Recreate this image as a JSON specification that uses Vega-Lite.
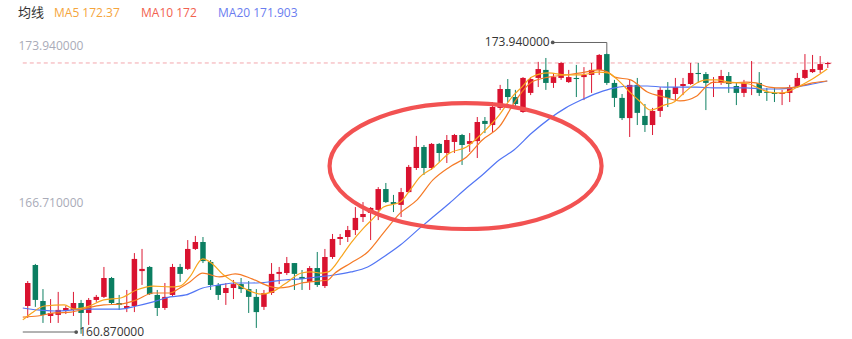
{
"$schema": "https://vega.github.io/schema/vega-lite/v6.json",
"width": 852, "height": 339, "padding": 0, "autosize": "none",
"background": "white",
"config": {"view": {"stroke": null}},
"datasets": {
"candles": [
{"i":0,"o":162.28,"c":163.34,"h":163.43,"l":161.73},
{"i":1,"o":164.17,"c":162.56,"h":164.22,"l":162.24},
{"i":2,"o":162.51,"c":161.87,"h":163.06,"l":161.50},
{"i":3,"o":161.82,"c":161.96,"h":162.60,"l":161.50},
{"i":4,"o":161.87,"c":162.10,"h":162.93,"l":161.50},
{"i":5,"o":162.05,"c":162.19,"h":162.28,"l":161.91},
{"i":6,"o":162.10,"c":162.42,"h":162.93,"l":161.82},
{"i":7,"o":162.42,"c":161.96,"h":162.56,"l":161.00},
{"i":8,"o":161.96,"c":162.56,"h":162.65,"l":161.41},
{"i":9,"o":162.56,"c":162.70,"h":162.79,"l":162.47},
{"i":10,"o":162.70,"c":163.57,"h":164.08,"l":162.65},
{"i":11,"o":163.57,"c":162.42,"h":163.62,"l":162.37},
{"i":12,"o":162.42,"c":162.33,"h":162.79,"l":162.10},
{"i":13,"o":162.19,"c":162.28,"h":163.02,"l":162.00},
{"i":14,"o":162.28,"c":164.45,"h":164.72,"l":162.00},
{"i":15,"o":163.89,"c":163.99,"h":164.91,"l":163.25},
{"i":16,"o":164.08,"c":162.83,"h":164.12,"l":162.79},
{"i":17,"o":162.79,"c":162.19,"h":163.02,"l":161.82},
{"i":18,"o":162.19,"c":162.70,"h":163.34,"l":162.10},
{"i":19,"o":162.79,"c":164.08,"h":164.22,"l":162.74},
{"i":20,"o":164.08,"c":163.76,"h":164.22,"l":163.39},
{"i":21,"o":163.99,"c":164.91,"h":165.32,"l":163.94},
{"i":22,"o":164.91,"c":165.23,"h":165.51,"l":164.86},
{"i":23,"o":165.23,"c":164.35,"h":165.46,"l":164.26},
{"i":24,"o":164.31,"c":163.25,"h":164.40,"l":163.02},
{"i":25,"o":163.25,"c":162.79,"h":163.34,"l":162.56},
{"i":26,"o":162.88,"c":163.11,"h":163.34,"l":162.33},
{"i":27,"o":163.11,"c":163.29,"h":163.48,"l":162.60},
{"i":28,"o":163.29,"c":163.06,"h":163.57,"l":162.88},
{"i":29,"o":163.06,"c":162.70,"h":163.43,"l":161.96},
{"i":30,"o":162.70,"c":162.00,"h":163.06,"l":161.27},
{"i":31,"o":162.24,"c":162.88,"h":163.02,"l":162.10},
{"i":32,"o":162.88,"c":163.76,"h":164.26,"l":162.79},
{"i":33,"o":163.76,"c":163.85,"h":164.08,"l":163.29},
{"i":34,"o":163.80,"c":164.26,"h":164.54,"l":163.71},
{"i":35,"o":164.26,"c":163.76,"h":164.26,"l":163.02},
{"i":36,"o":163.62,"c":163.53,"h":163.94,"l":163.02},
{"i":37,"o":163.39,"c":164.03,"h":164.12,"l":163.02},
{"i":38,"o":164.03,"c":163.25,"h":164.77,"l":163.16},
{"i":39,"o":163.20,"c":164.54,"h":164.91,"l":163.11},
{"i":40,"o":164.54,"c":165.37,"h":165.60,"l":164.45},
{"i":41,"o":165.37,"c":165.46,"h":165.60,"l":165.09},
{"i":42,"o":165.46,"c":165.78,"h":165.97,"l":165.23},
{"i":43,"o":165.78,"c":166.34,"h":166.84,"l":165.55},
{"i":44,"o":166.38,"c":166.52,"h":167.07,"l":166.15},
{"i":45,"o":166.57,"c":166.80,"h":166.84,"l":165.32},
{"i":46,"o":166.71,"c":167.67,"h":167.76,"l":166.24},
{"i":47,"o":167.67,"c":167.07,"h":167.95,"l":167.03},
{"i":48,"o":167.07,"c":166.98,"h":167.40,"l":166.61},
{"i":49,"o":166.94,"c":167.53,"h":167.72,"l":166.38},
{"i":50,"o":167.53,"c":168.69,"h":168.78,"l":167.49},
{"i":51,"o":168.64,"c":169.61,"h":170.12,"l":168.55},
{"i":52,"o":169.61,"c":168.64,"h":169.70,"l":168.32},
{"i":53,"o":168.64,"c":169.75,"h":169.79,"l":168.55},
{"i":54,"o":169.75,"c":169.33,"h":169.79,"l":168.92},
{"i":55,"o":169.33,"c":169.93,"h":170.16,"l":168.87},
{"i":56,"o":169.84,"c":170.16,"h":170.21,"l":169.33},
{"i":57,"o":170.16,"c":169.70,"h":170.21,"l":168.78},
{"i":58,"o":169.75,"c":169.88,"h":170.25,"l":169.38},
{"i":59,"o":169.88,"c":170.76,"h":170.99,"l":169.10},
{"i":60,"o":170.81,"c":170.67,"h":170.99,"l":170.25},
{"i":61,"o":170.62,"c":171.45,"h":171.68,"l":170.30},
{"i":62,"o":171.41,"c":172.28,"h":172.47,"l":171.31},
{"i":63,"o":172.28,"c":171.91,"h":172.74,"l":171.68},
{"i":64,"o":171.91,"c":171.59,"h":172.24,"l":171.45},
{"i":65,"o":171.22,"c":172.79,"h":172.83,"l":171.18},
{"i":66,"o":172.10,"c":172.74,"h":172.83,"l":172.00},
{"i":67,"o":172.79,"c":173.20,"h":173.53,"l":172.37},
{"i":68,"o":173.16,"c":172.56,"h":173.71,"l":172.24},
{"i":69,"o":172.56,"c":172.83,"h":173.02,"l":172.33},
{"i":70,"o":172.79,"c":173.48,"h":173.53,"l":172.70},
{"i":71,"o":172.60,"c":172.83,"h":173.16,"l":172.56},
{"i":72,"o":172.79,"c":172.74,"h":173.39,"l":171.91},
{"i":73,"o":172.83,"c":172.93,"h":173.29,"l":171.77},
{"i":74,"o":172.93,"c":173.16,"h":173.48,"l":172.10},
{"i":75,"o":173.16,"c":173.85,"h":173.89,"l":172.93},
{"i":76,"o":173.89,"c":172.56,"h":173.94,"l":172.47},
{"i":77,"o":172.56,"c":171.87,"h":172.70,"l":171.45},
{"i":78,"o":171.87,"c":170.94,"h":172.05,"l":170.85},
{"i":79,"o":170.94,"c":172.47,"h":172.70,"l":170.07},
{"i":80,"o":172.47,"c":171.18,"h":172.79,"l":170.62},
{"i":81,"o":171.04,"c":170.62,"h":171.59,"l":170.30},
{"i":82,"o":170.62,"c":171.27,"h":171.41,"l":170.16},
{"i":83,"o":171.27,"c":172.24,"h":172.37,"l":170.99},
{"i":84,"o":172.24,"c":171.87,"h":172.60,"l":171.45},
{"i":85,"o":172.05,"c":172.37,"h":172.79,"l":171.77},
{"i":86,"o":172.42,"c":172.51,"h":172.79,"l":172.00},
{"i":87,"o":172.51,"c":173.02,"h":173.48,"l":172.47},
{"i":88,"o":173.02,"c":172.97,"h":173.48,"l":172.56},
{"i":89,"o":172.97,"c":172.56,"h":173.06,"l":171.31},
{"i":90,"o":172.56,"c":172.60,"h":172.83,"l":171.91},
{"i":91,"o":172.56,"c":172.88,"h":173.16,"l":172.47},
{"i":92,"o":172.88,"c":172.51,"h":173.06,"l":172.10},
{"i":93,"o":172.42,"c":172.10,"h":172.56,"l":171.54},
{"i":94,"o":172.10,"c":172.56,"h":172.70,"l":171.91},
{"i":95,"o":172.56,"c":172.60,"h":173.57,"l":172.00},
{"i":96,"o":172.56,"c":172.10,"h":173.06,"l":171.96},
{"i":97,"o":172.14,"c":172.10,"h":172.33,"l":171.73},
{"i":98,"o":172.10,"c":172.05,"h":172.33,"l":171.68},
{"i":99,"o":172.05,"c":172.10,"h":172.24,"l":171.54},
{"i":100,"o":172.10,"c":172.37,"h":172.47,"l":171.68},
{"i":101,"o":172.37,"c":172.79,"h":173.02,"l":172.33},
{"i":102,"o":172.79,"c":173.16,"h":173.89,"l":172.74},
{"i":103,"o":173.06,"c":173.20,"h":173.85,"l":173.02},
{"i":104,"o":173.16,"c":173.43,"h":173.80,"l":173.02},
{"i":105,"o":173.43,"c":173.48,"h":173.53,"l":173.25}
],
"ma": [
{"s":"MA20","i":-0.65,"p":162.19},{"s":"MA20","i":1.3,"p":162.10},{"s":"MA20","i":3.5,"p":162.05},{"s":"MA20","i":7.78,"p":162.14},{"s":"MA20","i":12.19,"p":162.14},{"s":"MA20","i":14.27,"p":162.28},{"s":"MA20","i":16.47,"p":162.47},{"s":"MA20","i":18.68,"p":162.70},{"s":"MA20","i":20.75,"p":162.79},{"s":"MA20","i":22.96,"p":163.11},{"s":"MA20","i":25.16,"p":163.25},{"s":"MA20","i":27.24,"p":163.34},{"s":"MA20","i":29.44,"p":163.34},{"s":"MA20","i":31.65,"p":163.39},{"s":"MA20","i":33.72,"p":163.48},{"s":"MA20","i":35.93,"p":163.53},{"s":"MA20","i":38.13,"p":163.62},{"s":"MA20","i":40.21,"p":163.71},{"s":"MA20","i":42.41,"p":163.85},{"s":"MA20","i":44.62,"p":164.08},{"s":"MA20","i":46.69,"p":164.54},{"s":"MA20","i":48.9,"p":165.09},{"s":"MA20","i":51.49,"p":165.88},{"s":"MA20","i":53.18,"p":166.38},{"s":"MA20","i":55.38,"p":167.03},{"s":"MA20","i":57.59,"p":167.72},{"s":"MA20","i":59.66,"p":168.32},{"s":"MA20","i":61.87,"p":169.01},{"s":"MA20","i":63.81,"p":169.47},{"s":"MA20","i":66.15,"p":170.25},{"s":"MA20","i":70.56,"p":171.40},{"s":"MA20","i":72.63,"p":171.77},{"s":"MA20","i":74.84,"p":172.10},{"s":"MA20","i":77.04,"p":172.33},{"s":"MA20","i":79.12,"p":172.42},{"s":"MA20","i":81.32,"p":172.42},{"s":"MA20","i":83.53,"p":172.37},{"s":"MA20","i":85.6,"p":172.37},{"s":"MA20","i":87.81,"p":172.37},{"s":"MA20","i":90.01,"p":172.33},{"s":"MA20","i":92.09,"p":172.33},{"s":"MA20","i":94.29,"p":172.33},{"s":"MA20","i":96.5,"p":172.28},{"s":"MA20","i":98.57,"p":172.28},{"s":"MA20","i":100.78,"p":172.37},{"s":"MA20","i":102.98,"p":172.51},{"s":"MA20","i":104.93,"p":172.65},
{"s":"MA10","i":-0.65,"p":161.77},{"s":"MA10","i":1.3,"p":161.82},{"s":"MA10","i":3.5,"p":161.96},{"s":"MA10","i":5.71,"p":162.00},{"s":"MA10","i":7.78,"p":162.19},{"s":"MA10","i":9.99,"p":162.33},{"s":"MA10","i":12.19,"p":162.37},{"s":"MA10","i":14.27,"p":162.56},{"s":"MA10","i":16.47,"p":162.88},{"s":"MA10","i":18.68,"p":162.88},{"s":"MA10","i":19.97,"p":163.11},{"s":"MA10","i":21.27,"p":163.39},{"s":"MA10","i":22.96,"p":163.80},{"s":"MA10","i":25.16,"p":163.62},{"s":"MA10","i":27.24,"p":163.76},{"s":"MA10","i":29.44,"p":163.53},{"s":"MA10","i":31.65,"p":163.20},{"s":"MA10","i":32.94,"p":163.11},{"s":"MA10","i":34.24,"p":163.16},{"s":"MA10","i":35.93,"p":163.34},{"s":"MA10","i":38.13,"p":163.43},{"s":"MA10","i":39.43,"p":163.48},{"s":"MA10","i":40.21,"p":163.76},{"s":"MA10","i":42.41,"p":164.26},{"s":"MA10","i":44.62,"p":164.77},{"s":"MA10","i":46.69,"p":165.65},{"s":"MA10","i":48.9,"p":166.57},{"s":"MA10","i":51.1,"p":167.17},{"s":"MA10","i":53.18,"p":168.09},{"s":"MA10","i":55.38,"p":168.69},{"s":"MA10","i":57.59,"p":169.15},{"s":"MA10","i":59.66,"p":169.93},{"s":"MA10","i":61.87,"p":170.53},{"s":"MA10","i":64.07,"p":171.77},{"s":"MA10","i":66.15,"p":172.60},{"s":"MA10","i":68.35,"p":172.83},{"s":"MA10","i":70.56,"p":172.93},{"s":"MA10","i":72.63,"p":173.02},{"s":"MA10","i":74.84,"p":173.16},{"s":"MA10","i":76.13,"p":173.06},{"s":"MA10","i":77.04,"p":172.83},{"s":"MA10","i":79.12,"p":172.70},{"s":"MA10","i":81.32,"p":172.14},{"s":"MA10","i":83.53,"p":171.91},{"s":"MA10","i":85.6,"p":171.73},{"s":"MA10","i":87.81,"p":171.96},{"s":"MA10","i":89.1,"p":172.42},{"s":"MA10","i":90.01,"p":172.60},{"s":"MA10","i":92.09,"p":172.56},{"s":"MA10","i":94.29,"p":172.60},{"s":"MA10","i":95.59,"p":172.56},{"s":"MA10","i":97.28,"p":172.37},{"s":"MA10","i":99.09,"p":172.33},{"s":"MA10","i":100.78,"p":172.37},{"s":"MA10","i":102.98,"p":172.56},{"s":"MA10","i":104.93,"p":172.65},
{"s":"MA5","i":-0.65,"p":161.64},{"s":"MA5","i":0.52,"p":161.96},{"s":"MA5","i":2.2,"p":162.28},{"s":"MA5","i":4.8,"p":162.33},{"s":"MA5","i":6.1,"p":162.14},{"s":"MA5","i":7.78,"p":162.24},{"s":"MA5","i":9.99,"p":162.56},{"s":"MA5","i":12.19,"p":162.65},{"s":"MA5","i":14.27,"p":163.02},{"s":"MA5","i":16.47,"p":163.20},{"s":"MA5","i":18.68,"p":163.16},{"s":"MA5","i":19.97,"p":163.20},{"s":"MA5","i":21.27,"p":163.62},{"s":"MA5","i":22.96,"p":164.45},{"s":"MA5","i":24.25,"p":164.22},{"s":"MA5","i":25.55,"p":163.76},{"s":"MA5","i":27.24,"p":163.34},{"s":"MA5","i":29.44,"p":162.93},{"s":"MA5","i":30.74,"p":162.83},{"s":"MA5","i":32.04,"p":162.93},{"s":"MA5","i":33.72,"p":163.29},{"s":"MA5","i":35.93,"p":163.80},{"s":"MA5","i":37.22,"p":163.85},{"s":"MA5","i":38.52,"p":163.80},{"s":"MA5","i":39.43,"p":163.85},{"s":"MA5","i":41.12,"p":164.54},{"s":"MA5","i":42.41,"p":165.18},{"s":"MA5","i":44.1,"p":165.88},{"s":"MA5","i":45.4,"p":166.34},{"s":"MA5","i":46.69,"p":166.84},{"s":"MA5","i":48.9,"p":167.07},{"s":"MA5","i":50.19,"p":167.63},{"s":"MA5","i":51.49,"p":168.23},{"s":"MA5","i":53.18,"p":168.64},{"s":"MA5","i":55.38,"p":169.33},{"s":"MA5","i":57.59,"p":169.61},{"s":"MA5","i":59.66,"p":170.25},{"s":"MA5","i":61.87,"p":171.08},{"s":"MA5","i":63.55,"p":171.91},{"s":"MA5","i":64.85,"p":172.37},{"s":"MA5","i":66.15,"p":172.83},{"s":"MA5","i":68.35,"p":173.02},{"s":"MA5","i":70.56,"p":172.93},{"s":"MA5","i":72.63,"p":172.93},{"s":"MA5","i":74.84,"p":173.06},{"s":"MA5","i":76.13,"p":173.02},{"s":"MA5","i":77.43,"p":172.70},{"s":"MA5","i":79.12,"p":172.10},{"s":"MA5","i":80.42,"p":171.68},{"s":"MA5","i":81.71,"p":171.31},{"s":"MA5","i":83.53,"p":171.54},{"s":"MA5","i":84.82,"p":171.68},{"s":"MA5","i":86.12,"p":172.10},{"s":"MA5","i":87.81,"p":172.56},{"s":"MA5","i":89.1,"p":172.70},{"s":"MA5","i":90.4,"p":172.70},{"s":"MA5","i":92.09,"p":172.60},{"s":"MA5","i":93.39,"p":172.56},{"s":"MA5","i":94.68,"p":172.51},{"s":"MA5","i":95.59,"p":172.37},{"s":"MA5","i":97.28,"p":172.14},{"s":"MA5","i":99.09,"p":172.10},{"s":"MA5","i":100.78,"p":172.33},{"s":"MA5","i":102.98,"p":172.74},{"s":"MA5","i":104.93,"p":173.20}
]
},
"layer": [
{
"data": {"values": [{"p": 173.48}]},
"mark": {"type": "rule", "color": "#f3a7ad", "strokeWidth": 1, "strokeDash": [4, 3]},
"encoding": {
"x": {"datum": -0.65, "type": "quantitative", "scale": {"domain": [-2.983, 107.52], "nice": false, "zero": false}, "axis": null},
"x2": {"datum": 105.6},
"y": {"field": "p", "type": "quantitative", "scale": {"domain": [160.76, 176.382], "nice": false, "zero": false},
"axis": {"values": [166.71, 173.94], "format": ".6f", "orient": "left", "labelAlign": "left", "labelBaseline": "bottom", "labelPadding": -18, "ticks": false, "domain": false, "grid": false, "title": null, "labelColor": "#a9abb8", "labelFont": "Open Sans", "labelFontSize": 12}}
}
},
{
"data": {"name": "candles"},
"mark": {"type": "rule", "strokeWidth": 1},
"encoding": {
"x": {"field": "i", "type": "quantitative"},
"y": {"field": "h", "type": "quantitative"},
"y2": {"field": "l"},
"color": {"condition": {"test": "datum.c >= datum.o", "value": "#dc1a35"}, "value": "#0f8163"}
}
},
{
"data": {"name": "candles"},
"mark": {"type": "bar", "size": 5.5},
"encoding": {
"x": {"field": "i", "type": "quantitative"},
"y": {"field": "o", "type": "quantitative"},
"y2": {"field": "c"},
"color": {"condition": {"test": "datum.c >= datum.o", "value": "#d9122f"}, "value": "#0b7e61"}
}
},
{
"data": {"name": "ma"},
"mark": {"type": "line", "strokeWidth": 1.2, "interpolate": "monotone"},
"encoding": {
"x": {"field": "i", "type": "quantitative"},
"y": {"field": "p", "type": "quantitative"},
"color": {"field": "s", "type": "nominal",
"scale": {"domain": ["MA5", "MA10", "MA20"], "range": ["#f8a51e", "#f57a26", "#5275f4"]},
"legend": {"orient": "none", "legendX": 18, "legendY": 7, "direction": "horizontal", "title": "均线", "titleOrient": "left", "titleFont": "Noto Sans CJK SC", "titleFontSize": 13, "titleFontWeight": "normal", "titleColor": "#333333", "titlePadding": -3, "titleBaseline": "middle", "labelFont": "Open Sans", "labelFontSize": 12, "symbolSize": 0, "symbolStrokeWidth": 0, "symbolOpacity": 0, "labelOffset": 0, "columnPadding": 9,
"labelExpr": "datum.value === 'MA5' ? 'MA5 172.37' : (datum.value === 'MA10' ? 'MA10 172' : 'MA20 171.903')",
"encode": {"labels": {"update": {"fill": [{"test": "datum.value === 'MA5'", "value": "#f5a53c"}, {"test": "datum.value === 'MA10'", "value": "#f2624f"}, {"value": "#6a7df0"}]}}}}
}
}
},
{
"data": {"values": [{"i": 57.46, "p": 168.73}]},
"mark": {"type": "point", "shape": "M -1 0 C -1 -0.2557 -0.5523 -0.463 0 -0.463 C 0.5523 -0.463 1 -0.2557 1 0 C 1 0.2557 0.5523 0.463 0 0.463 C -0.5523 0.463 -1 0.2557 -1 0 Z", "size": 73984, "filled": false, "stroke": "#f25252", "strokeWidth": 4.2, "opacity": 1},
"encoding": {"x": {"field": "i", "type": "quantitative"}, "y": {"field": "p", "type": "quantitative"}}
},
{
"data": {"values": [{"i": 76, "i0": 68.9, "p": 173.94, "label": "173.940000"}]},
"layer": [
{"mark": {"type": "rule", "color": "#666666", "strokeWidth": 1, "yOffset": -10.5},
"encoding": {"x": {"field": "i0", "type": "quantitative"}, "x2": {"field": "i"}, "y": {"field": "p", "type": "quantitative"}}},
{"mark": {"type": "rule", "color": "#666666", "strokeWidth": 1, "yOffset": -10.5},
"encoding": {"x": {"field": "i", "type": "quantitative"}, "y": {"field": "p", "type": "quantitative"}, "y2": {"field": "p"}}},
{"mark": {"type": "point", "filled": true, "size": 14, "color": "#555555", "opacity": 1, "yOffset": -10.5},
"encoding": {"x": {"field": "i0", "type": "quantitative"}, "y": {"field": "p", "type": "quantitative"}}},
{"mark": {"type": "text", "align": "right", "baseline": "middle", "dx": -3, "yOffset": -10.5, "font": "Open Sans", "fontSize": 12, "color": "#333333"},
"encoding": {"x": {"field": "i0", "type": "quantitative"}, "y": {"field": "p", "type": "quantitative"}, "text": {"field": "label"}}}
]
},
{
"data": {"values": [{"i": 6.36, "i0": -0.65, "p": 160.87, "label": "160.870000"}]},
"layer": [
{"mark": {"type": "rule", "color": "#666666", "strokeWidth": 1, "yOffset": -4.6},
"encoding": {"x": {"field": "i0", "type": "quantitative"}, "x2": {"field": "i"}, "y": {"field": "p", "type": "quantitative"}}},
{"mark": {"type": "point", "filled": true, "size": 14, "color": "#555555", "opacity": 1, "yOffset": -4.6},
"encoding": {"x": {"field": "i", "type": "quantitative"}, "y": {"field": "p", "type": "quantitative"}}},
{"mark": {"type": "text", "align": "left", "baseline": "middle", "dx": 3, "yOffset": -4.6, "font": "Open Sans", "fontSize": 12, "color": "#333333"},
"encoding": {"x": {"field": "i", "type": "quantitative"}, "y": {"field": "p", "type": "quantitative"}, "text": {"field": "label"}}}
]
}
]
}
